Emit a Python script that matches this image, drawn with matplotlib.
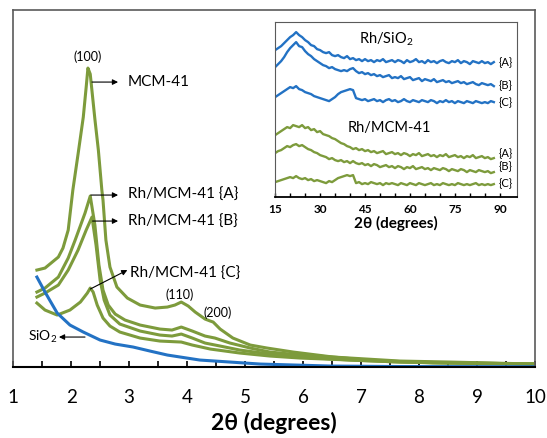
import matplotlib
matplotlib.use('Agg')
import matplotlib.pyplot as plt

plt.rcParams['font.family'] = ['Lato', 'DejaVu Sans']
plt.rcParams['mathtext.fontset'] = 'custom'
plt.rcParams['mathtext.rm'] = 'Lato'
plt.rcParams['mathtext.default'] = 'regular'

GREEN = '#7d9b3c'
BLUE = '#2372c4'

# main low-angle patterns: 2theta (deg), intensity (a.u.)
mcm_x = [1.41, 1.55, 1.78, 1.86, 1.95, 2.03, 2.12, 2.21, 2.26, 2.29, 2.33, 2.41, 2.47, 2.53,
         2.55, 2.60, 2.67, 2.79, 2.97, 3.19, 3.45, 3.66, 3.79, 3.90, 4.02, 4.14, 4.31, 4.40,
         4.45, 4.57, 4.79, 5.09, 5.38, 5.83, 6.52, 7.10, 8.24, 10.0]
mcm_y = [97, 99, 110, 119, 137, 177, 213, 250, 280, 299, 293, 248, 217, 177,
         167, 127, 100, 80, 69, 62, 59, 60, 62, 65, 61, 55, 48, 46,
         45, 38, 29, 22, 19, 15, 10, 7, 4, 3]

rhA_x = [1.41, 1.55, 1.78, 1.95, 2.07, 2.24, 2.33, 2.41, 2.48, 2.55, 2.64, 2.76, 2.93, 3.19,
         3.53, 3.74, 3.90, 4.09, 4.31, 4.48, 4.74, 5.09, 5.43, 5.95, 6.81, 7.67, 8.53, 10.0]
rhA_y = [75, 79, 90, 109, 127, 154, 171, 142, 102, 77, 62, 53, 47, 42,
         38, 37, 40, 36, 31, 29, 24, 19, 15, 12, 9, 6, 5, 3]

rhB_x = [1.41, 1.55, 1.78, 1.95, 2.12, 2.26, 2.36, 2.43, 2.50, 2.57, 2.67, 2.84, 3.19, 3.53,
         3.74, 3.90, 4.09, 4.31, 4.57, 4.91, 5.43, 5.95, 6.81, 7.67, 10.0]
rhB_y = [70, 74, 82, 97, 117, 137, 150, 122, 87, 67, 52, 43, 36, 32,
         31, 33, 29, 24, 21, 17, 13, 10, 7, 5, 3]

rhC_x = [1.41, 1.55, 1.76, 1.98, 2.16, 2.28, 2.33, 2.38, 2.45, 2.55, 2.67, 2.84, 3.19, 3.53,
         3.90, 4.09, 4.40, 4.91, 5.43, 5.95, 6.81, 7.67, 10.0]
rhC_y = [64, 57, 52, 57, 65, 74, 79, 75, 62, 49, 41, 35, 29, 26,
         25, 22, 18, 14, 11, 9, 7, 5, 3]

sio2_x = [1.41, 1.55, 1.76, 1.98, 2.21, 2.50, 2.76, 3.07, 3.36, 3.66, 4.22, 4.74, 5.26, 6.47, 7.67, 10.0]
sio2_y = [90, 75, 54, 42, 35, 27, 23, 20, 16, 12, 7, 5, 3, 1, 0.5, 0.3]

# inset wide-angle patterns, 2theta = 15..88
wide_x = list(range(15, 89))
si_A = [147, 149, 151, 154, 157, 160, 162, 165, 162, 160,
        157, 155, 152, 151, 148, 147, 145, 144, 145, 142,
        141, 142, 140, 139, 141, 138, 139, 137, 138, 136,
        138, 136, 137, 135, 137, 136, 138, 135, 136, 137,
        135, 137, 136, 134, 137, 135, 136, 138, 135, 136,
        134, 137, 135, 136, 134, 136, 137, 135, 134, 136,
        135, 137, 134, 136, 135, 133, 136, 135, 134, 136,
        134, 135, 133, 135]
si_B = [130, 133, 136, 140, 145, 149, 152, 155, 151, 150,
        146, 143, 141, 138, 136, 134, 132, 131, 129, 130,
        128, 127, 126, 127, 126, 128, 129, 126, 124, 125,
        123, 124, 122, 123, 121, 122, 120, 121, 122, 119,
        120, 119, 121, 118, 119, 120, 117, 118, 119, 116,
        118, 117, 116, 118, 115, 116, 117, 115, 116, 114,
        115, 116, 114, 115, 113, 114, 115, 113, 112, 114,
        113, 112, 113, 111]
si_C = [100, 102, 104, 106, 108, 110, 109, 111, 108, 107,
        105, 104, 103, 101, 100, 99, 98, 97, 96, 98,
        100, 103, 105, 106, 107, 108, 107, 99, 98, 97,
        98, 96, 97, 98, 96, 97, 95, 97, 98, 96,
        97, 95, 96, 98, 96, 95, 97, 96, 95, 97,
        96, 95, 97, 96, 94, 96, 95, 97, 95, 96,
        94, 96, 95, 94, 96, 95, 94, 96, 95, 94,
        95, 94, 96, 95]
mcm_A = [62, 64, 66, 68, 70, 69, 72, 71, 70, 72,
         69, 70, 67, 68, 65, 66, 63, 62, 61, 59,
         58, 56, 54, 53, 51, 50, 48, 49, 47, 48,
         46, 47, 45, 46, 44, 45, 46, 43, 44, 45,
         43, 44, 42, 44, 43, 41, 43, 42, 44, 41,
         42, 43, 41, 42, 40, 42, 41, 43, 40, 41,
         42, 40, 41, 39, 41, 40, 42, 39, 40, 41,
         39, 40, 38, 39]
mcm_B = [44, 46, 47, 49, 51, 50, 52, 53, 51, 52,
         50, 48, 47, 45, 44, 42, 41, 40, 38, 39,
         37, 36, 37, 35, 36, 34, 36, 34, 33, 34,
         32, 33, 31, 33, 32, 30, 31, 32, 30, 31,
         29, 31, 30, 28, 30, 29, 31, 28, 29, 30,
         28, 29, 27, 29, 28, 27, 29, 28, 26, 28,
         27, 26, 28, 27, 25, 27, 26, 25, 27, 26,
         25, 26, 24, 25]
mcm_C = [15, 16, 17, 18, 19, 20, 19, 21, 19, 18,
         19, 17, 18, 16, 17, 16, 15, 14, 16, 15,
         17, 19, 20, 21, 22, 21, 22, 14, 15, 13,
         14, 13, 15, 14, 13, 14, 12, 14, 13, 14,
         13, 12, 14, 13, 12, 14, 13, 12, 14, 13,
         12, 13, 14, 12, 13, 12, 14, 13, 12, 13,
         12, 14, 13, 12, 13, 12, 13, 14, 12, 13,
         12, 13, 12, 13]

fig = plt.figure(figsize=(5.47, 4.38), dpi=100)
ax = fig.add_axes([0.024, 0.162, 0.954, 0.815])

for xs, ys in [(mcm_x, mcm_y), (rhA_x, rhA_y), (rhB_x, rhB_y), (rhC_x, rhC_y)]:
    ax.plot(xs, ys, color=GREEN, lw=2.2, solid_joinstyle='round')
ax.plot(sio2_x, sio2_y, color=BLUE, lw=2.2, solid_joinstyle='round')

ax.set_xlim(1, 10)
ax.set_ylim(0, 357)
ax.set_yticks([])
ax.set_xticks(range(1, 11))
ax.set_xticks([i + 0.5 for i in range(1, 10)], minor=True)
ax.tick_params(axis='x', which='both', direction='in', length=4, width=1.2, pad=16, labelsize=13.5)
for s in ['left', 'top', 'right']:
    ax.spines[s].set_color('#5a5a5a')
    ax.spines[s].set_linewidth(1.2)
ax.spines['bottom'].set_linewidth(1.5)
ax.set_xlabel('2θ (degrees)', fontsize=16.5, fontweight='bold', labelpad=4)

arr = dict(arrowstyle='-|>', color='black', lw=0.8, mutation_scale=8, shrinkA=0, shrinkB=0)
ax.text(2.29, 310, '(100)', fontsize=9, ha='center', va='center')
ax.annotate('', xy=(2.81, 285), xytext=(2.36, 285), arrowprops=arr)
ax.text(2.98, 285, 'MCM-41', fontsize=11, va='center')
ax.annotate('', xy=(2.81, 172), xytext=(2.34, 172), arrowprops=arr)
ax.text(2.98, 172, 'Rh/MCM-41 {A}', fontsize=11, va='center')
ax.annotate('', xy=(2.81, 146), xytext=(2.37, 146), arrowprops=arr)
ax.text(2.98, 145, 'Rh/MCM-41 {B}', fontsize=11, va='center')
ax.annotate('', xy=(2.97, 97), xytext=(2.33, 78), arrowprops=arr)
ax.text(3.02, 93, 'Rh/MCM-41 {C}', fontsize=11, va='center')
ax.text(3.88, 72, '(110)', fontsize=9, ha='center', va='center')
ax.text(4.52, 54, '(200)', fontsize=9, ha='center', va='center')
ax.annotate('', xy=(1.79, 30), xytext=(2.24, 30), arrowprops=arr)
ax.text(1.76, 30, 'SiO$_2$', fontsize=10, ha='right', va='center')

# inset
ins = fig.add_axes([0.503, 0.550, 0.442, 0.3995])
for ys in [si_A, si_B, si_C]:
    ins.plot(wide_x, ys, color=BLUE, lw=1.7)
for ys in [mcm_A, mcm_B, mcm_C]:
    ins.plot(wide_x, ys, color=GREEN, lw=1.7)
ins.set_xlim(15, 95.7)
ins.set_ylim(0, 175)
ins.set_yticks([])
ins.set_xticks([15, 30, 45, 60, 75, 90])
ins.set_xticks(range(20, 95, 5), minor=True)
ins.tick_params(axis='x', which='both', direction='in', length=3, width=1, pad=5, labelsize=8.5)
for lab in ins.get_xticklabels():
    lab.set_fontweight('bold')
for s in ['left', 'top', 'right']:
    ins.spines[s].set_color('#5a5a5a')
ins.spines['bottom'].set_linewidth(1.3)
ins.set_xlabel('2θ (degrees)', fontsize=11, fontweight='bold', labelpad=1)

ins.text(52, 158, 'Rh/SiO$_2$', fontsize=10.5, ha='center', va='center')
ins.text(53, 69, 'Rh/MCM-41', fontsize=10.5, ha='center', va='center')
for lab, y in [('{A}', 135), ('{B}', 112), ('{C}', 95), ('{A}', 44), ('{B}', 31), ('{C}', 14)]:
    ins.text(89.5, y, lab, fontsize=8, va='center', clip_on=False)

fig.savefig('out.png', dpi=100)
